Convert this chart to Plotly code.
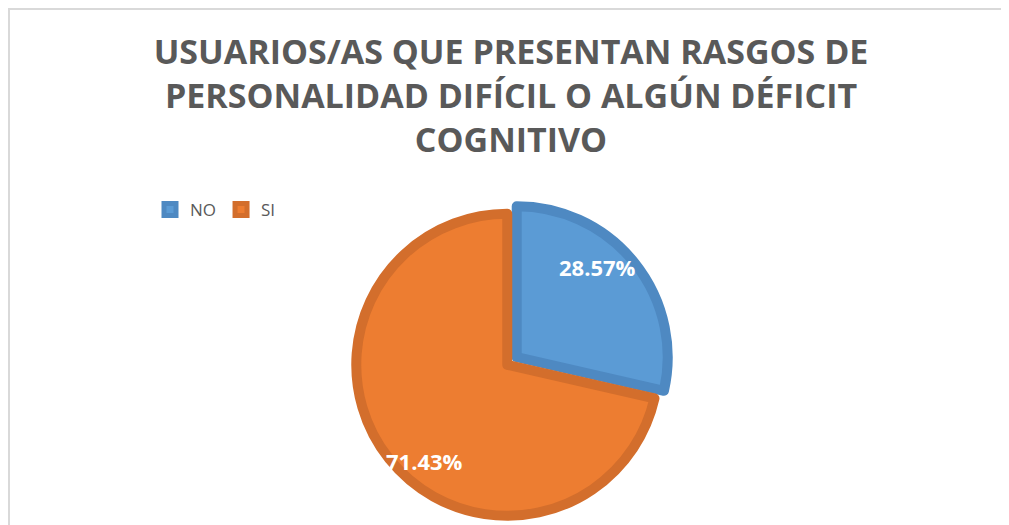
import math
import plotly.graph_objects as go

labels = ["NO", "SI"]
values = [2, 5]
colors = ["#5B9BD5", "#ED7D31"]
border_colors = ["#4E89C2", "#D36E2C"]
title_lines = ["USUARIOS/AS QUE PRESENTAN RASGOS DE",
               "PERSONALIDAD DIFÍCIL O ALGÚN DÉFICIT",
               "COGNITIVO"]

# the page body adds an 8px margin, so the figure is 8px smaller than the window
W, H = 1001, 517
CX, CY = 504, 353      # pie centre (px, figure coordinates)
R = 151                # pie radius (px)
PULL = 0.040
HALF = R * (1 + PULL)

fig = go.Figure(go.Pie(
    labels=labels,
    values=values,
    sort=False,
    direction="clockwise",
    rotation=0,
    pull=[PULL, PULL],
    marker=dict(colors=colors, line=dict(color=border_colors, width=10)),
    textinfo="none",
    domain=dict(x=[(CX - HALF) / W, (CX + HALF) / W],
                y=[1 - (CY + HALF) / H, 1 - (CY - HALF) / H]),
    hoverinfo="label+percent",
))

# data labels placed from the cumulative shares
total = sum(values)
cum = 0
annotations = []
for v, shift, frac in zip(values, [-9, -10], [0.84, 0.88]):
    mid = (cum + v / 2) / total * 360 + shift
    cum += v
    a = math.radians(mid)
    px = CX + frac * R * math.sin(a)
    py = CY - frac * R * math.cos(a)
    annotations.append(dict(
        x=px / W, y=1 - py / H, xref="paper", yref="paper",
        text=f"{v / total * 100:.2f}%", showarrow=False,
        font=dict(family="Open Sans", size=22, color="white", weight="bold"),
        xanchor="center", yanchor="middle",
    ))

fig.update_layout(
    width=W, height=H,
    margin=dict(l=0, r=0, t=0, b=0),
    paper_bgcolor="white",
    plot_bgcolor="white",
    title=dict(
        text="<br>".join(title_lines),
        font=dict(family="Open Sans", size=34, color="#595959", weight="bold"),
        x=503 / W, xanchor="center", xref="paper",
        y=1 - 56 / H, yanchor="top", yref="container",
    ),
    legend=dict(
        orientation="h",
        x=142 / W, xanchor="left",
        y=1 - 184 / H, yanchor="top",
        font=dict(family="Open Sans", size=17, color="#595959"),
        bgcolor="rgba(0,0,0,0)",
    ),
    annotations=annotations,
    shapes=[
        dict(type="line", xref="paper", yref="paper", x0=0, x1=1, y0=1 - 1 / H, y1=1 - 1 / H,
             line=dict(color="#D9D9D9", width=2)),
        dict(type="line", xref="paper", yref="paper", x0=1 / W, x1=1 / W, y0=0, y1=1 - 1 / H,
             line=dict(color="#D9D9D9", width=2)),
    ],
)

fig.write_html("out.html")
